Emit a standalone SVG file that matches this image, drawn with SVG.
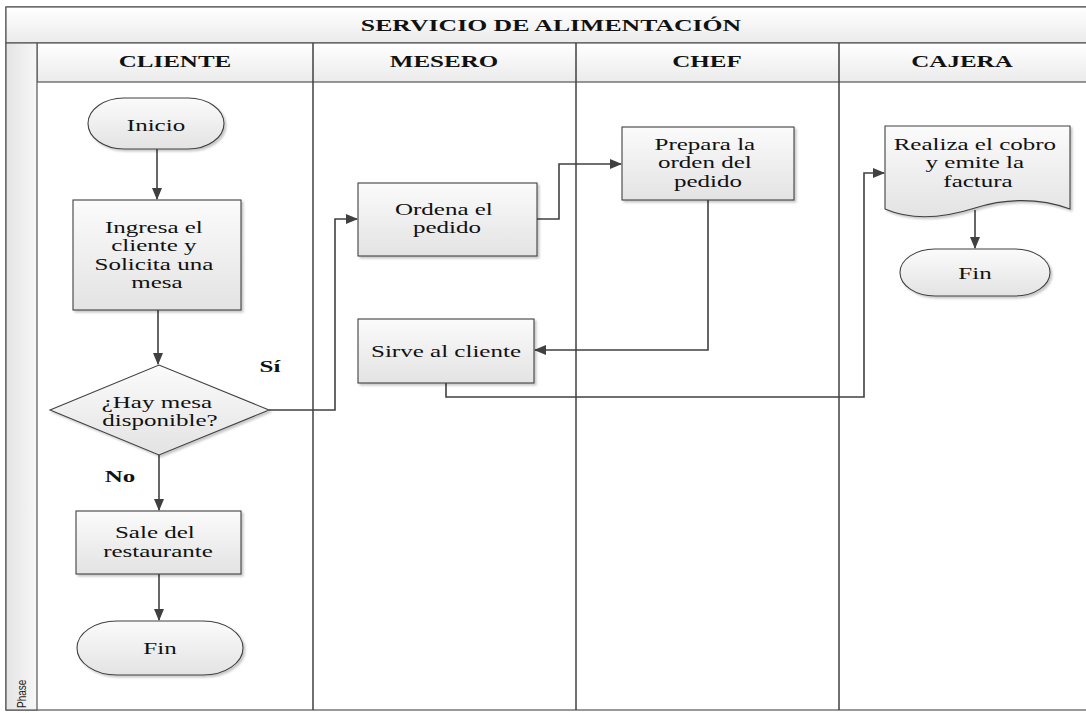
<svg xmlns="http://www.w3.org/2000/svg" width="1086" height="713" viewBox="0 0 1086 713">
  <defs>
    <linearGradient id="shapeFill" x1="0" y1="0" x2="0" y2="1">
      <stop offset="0" stop-color="#fbfbfb"/>
      <stop offset="1" stop-color="#e3e3e3"/>
    </linearGradient>
    <linearGradient id="bandFill" x1="0" y1="0" x2="0" y2="1">
      <stop offset="0" stop-color="#ffffff"/>
      <stop offset="1" stop-color="#ebebeb"/>
    </linearGradient>
    <linearGradient id="phaseFill" x1="0" y1="0" x2="1" y2="0">
      <stop offset="0" stop-color="#e4e4e4"/>
      <stop offset="1" stop-color="#f7f7f7"/>
    </linearGradient>
    <filter id="shadow" x="-10%" y="-10%" width="125%" height="130%">
      <feDropShadow dx="2" dy="2" stdDeviation="1.2" flood-color="#000" flood-opacity="0.22"/>
    </filter>
    <marker id="arrow" viewBox="0 0 12 12" refX="11" refY="6" markerWidth="12" markerHeight="12" markerUnits="userSpaceOnUse" orient="auto">
      <path d="M0,1 L12,6 L0,11 Z" fill="#404040"/>
    </marker>
  </defs>
  <style>
    .lane { stroke: #404040; stroke-width: 1.5; fill: none; }
    .frame { stroke: #555; stroke-width: 1.2; }
    .shape { fill: url(#shapeFill); stroke: #404040; stroke-width: 1.1; filter: url(#shadow); }
    .conn { fill: none; stroke: #404040; stroke-width: 1.6; marker-end: url(#arrow); }
    text { font-family: "Liberation Serif", "Times New Roman", serif; font-size: 17.5px; fill: #111; text-anchor: middle; }
    .head { font-weight: bold; }
    .phase { font-family: "Liberation Sans", Arial, sans-serif; font-size: 10px; fill: #222; text-anchor: start; }
  </style>

  <!-- swimlane frame -->
  <g id="pool">
    <rect x="6" y="7" width="1090" height="703" fill="#fff" class="frame"/>
    <rect x="6" y="7" width="1090" height="36" fill="url(#bandFill)" class="frame"/>
    <rect x="37" y="43" width="1059" height="39" fill="url(#bandFill)" class="frame"/>
    <rect x="6" y="43" width="31" height="667" fill="url(#phaseFill)" class="frame"/>
    <line x1="313" y1="43" x2="313" y2="710" class="lane"/>
    <line x1="576" y1="43" x2="576" y2="710" class="lane"/>
    <line x1="839" y1="43" x2="839" y2="710" class="lane"/>
    <text class="head" transform="translate(551,31) scale(1.47,1)">SERVICIO DE ALIMENTACIÓN</text>
    <text class="head" transform="translate(175,67) scale(1.43,1)">CLIENTE</text>
    <text class="head" transform="translate(444,67) scale(1.43,1)">MESERO</text>
    <text class="head" transform="translate(707,67) scale(1.43,1)">CHEF</text>
    <text class="head" transform="translate(962,67) scale(1.43,1)">CAJERA</text>
    <text class="phase" transform="translate(26,708) scale(1.3,1) rotate(-90)">Phase</text>
  </g>

  <!-- connectors -->
  <g id="connectors">
    <path class="conn" d="M157,149 V199"/>
    <path class="conn" d="M158,310 V364"/>
    <path class="conn" d="M269,410 H335 V219 H357"/>
    <path class="conn" d="M159,455 V510"/>
    <path class="conn" d="M159,574 V620"/>
    <path class="conn" d="M537,219 H559 V164 H621"/>
    <path class="conn" d="M708,200 V350 H535"/>
    <path class="conn" d="M446,383 V397 H864 V173 H884"/>
    <path class="conn" d="M975,210 V248"/>
    <text class="head" transform="translate(270,372) scale(1.43,1)">Sí</text>
    <text class="head" transform="translate(120,482) scale(1.43,1)">No</text>
  </g>

  <!-- CLIENTE lane -->
  <g id="inicio">
    <rect class="shape" x="88" y="98" width="136" height="51" rx="36" ry="25.5"/>
    <text transform="translate(156,131) scale(1.43,1)">Inicio</text>
  </g>
  <g id="ingresa">
    <rect class="shape" x="73" y="200" width="168" height="110"/>
    <text transform="translate(157,233) scale(1.43,1)">
      <tspan x="0" y="0">Ingresa el</tspan>
      <tspan x="0" y="18.5">cliente y</tspan>
      <tspan x="0" y="37">Solicita una</tspan>
      <tspan x="0" y="55.5">mesa</tspan>
    </text>
  </g>
  <g id="decision">
    <polygon class="shape" points="50,410 159,365 269,410 159,455"/>
    <text transform="translate(160,408) scale(1.43,1)">
      <tspan x="0" y="0">¿Hay mesa</tspan>
      <tspan x="0" y="18">disponible?</tspan>
    </text>
  </g>
  <g id="sale">
    <rect class="shape" x="76" y="511" width="165" height="63"/>
    <text transform="translate(158,538) scale(1.43,1)">
      <tspan x="0" y="0">Sale del</tspan>
      <tspan x="0" y="19">restaurante</tspan>
    </text>
  </g>
  <g id="fin-cliente">
    <rect class="shape" x="77" y="621" width="166" height="54" rx="40" ry="27"/>
    <text transform="translate(160,654) scale(1.43,1)">Fin</text>
  </g>

  <!-- MESERO lane -->
  <g id="ordena">
    <rect class="shape" x="358" y="183" width="179" height="73"/>
    <text transform="translate(447,215) scale(1.43,1)">
      <tspan x="0" y="0">Ordena el</tspan>
      <tspan x="0" y="18.5">pedido</tspan>
    </text>
  </g>
  <g id="sirve">
    <rect class="shape" x="358" y="319" width="176" height="64"/>
    <text transform="translate(446,357) scale(1.43,1)">Sirve al cliente</text>
  </g>

  <!-- CHEF lane -->
  <g id="prepara">
    <rect class="shape" x="622" y="127" width="172" height="73"/>
    <text transform="translate(708,150) scale(1.43,1)">
      <tspan x="0" y="0">Prepara la</tspan>
      <tspan x="0" y="18.5">orden del</tspan>
      <tspan x="0" y="37">pedido</tspan>
    </text>
  </g>

  <!-- CAJERA lane -->
  <g id="realiza">
    <path class="shape" d="M885,126 H1070 V209 C1035,196 1000,200 975,208 C950,216 915,222 885,209 Z"/>
    <text transform="translate(978,150) scale(1.43,1)">
      <tspan x="0" y="0">Realiza el cobro</tspan>
      <tspan x="0" y="18.5">y emite la</tspan>
      <tspan x="0" y="37">factura</tspan>
    </text>
  </g>
  <g id="fin-cajera">
    <rect class="shape" x="900" y="249" width="150" height="47" rx="35" ry="23.5"/>
    <text transform="translate(975,279) scale(1.43,1)">Fin</text>
  </g>
</svg>
